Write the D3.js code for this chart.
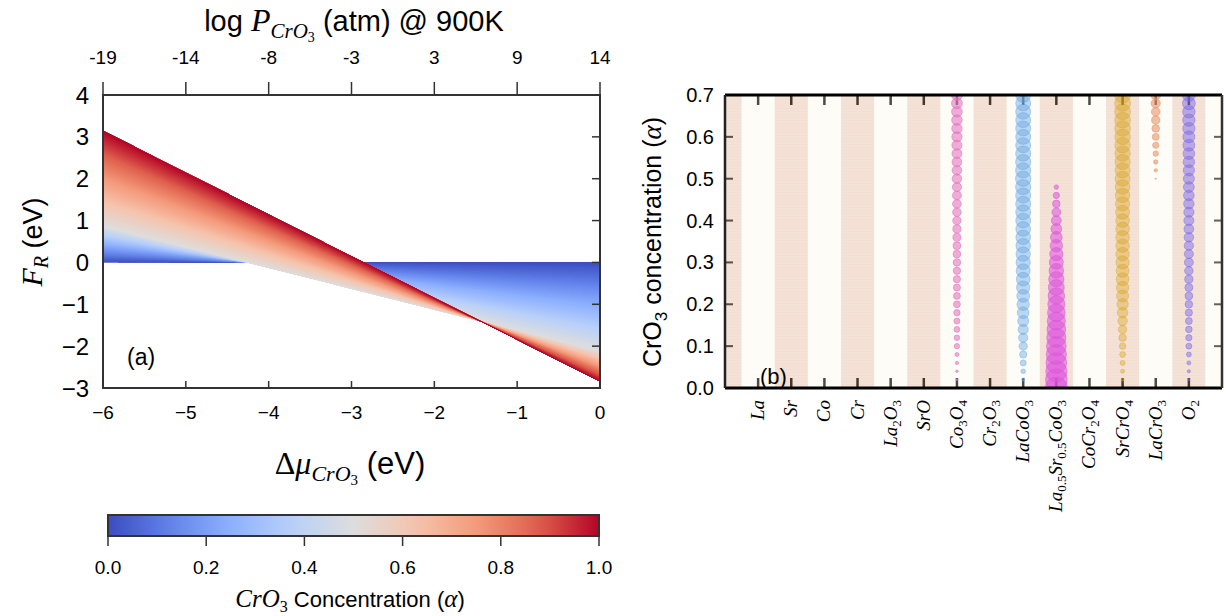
<!DOCTYPE html>
<html><head><meta charset="utf-8">
<script src="https://cdn.jsdelivr.net/npm/d3@7"></script>
<style>
body{margin:0;background:#fff}
text{font-family:"Liberation Sans",Arial,sans-serif;fill:#000}
.m{font-family:"Liberation Serif","Times New Roman",serif;font-style:italic}
.mu{font-family:"Liberation Serif","Times New Roman",serif;font-style:normal}
</style>
</head><body>
<svg id="c" width="1226" height="616"></svg>
<script>
// ---------- Panel (a) data ----------
const alphaLevels = [0,0.05,0.10,0.15,0.20,0.25,0.30,0.35,0.40,0.45,0.50,0.55,0.60,0.65,0.70,0.75,0.80,0.85,0.90,0.95,1.00];
// F_R (eV) of each alpha line at delta-mu = -6 eV and at delta-mu = 0 eV
const frAtMuLow  = [0,0.09,0.17,0.26,0.35,0.44,0.52,0.61,0.70,0.79,0.87,1.10,1.33,1.56,1.78,2.01,2.24,2.47,2.69,2.92,3.15];
const frAtMuHigh = [0,-0.21,-0.43,-0.64,-0.85,-1.06,-1.28,-1.49,-1.70,-1.91,-2.13,-2.20,-2.27,-2.34,-2.42,-2.49,-2.56,-2.63,-2.71,-2.78,-2.85];
const muRange = [-6,0];
const muTicks = [-6,-5,-4,-3,-2,-1,0];
const logPLabels = ["-19","-14","-8","-3","3","9","14"];
const frTicks = [-3,-2,-1,0,1,2,3,4];
const cbarTicks = [0,0.2,0.4,0.6,0.8,1.0];

// ---------- Panel (b) data ----------
const phases = ["La","Sr","Co","Cr","La2O3","SrO","Co3O4","Cr2O3","LaCoO3","La0.5Sr0.5CoO3","CoCr2O4","SrCrO4","LaCrO3","O2"];
const concGrid = [0,0.02,0.04,0.06,0.08,0.10,0.12,0.14,0.16,0.18,0.20,0.22,0.24,0.26,0.28,0.30,0.32,0.34,0.36,0.38,0.40,0.42,0.44,0.46,0.48,0.50,0.52,0.54,0.56,0.58,0.60,0.62,0.64,0.66,0.68,0.70];
const fracCo3O4  = [0,0.006,0.013,0.022,0.033,0.058,0.064,0.070,0.077,0.084,0.096,0.100,0.104,0.108,0.113,0.119,0.124,0.128,0.133,0.139,0.146,0.152,0.158,0.165,0.172,0.186,0.192,0.198,0.204,0.210,0.216,0.222,0.229,0.236,0.243,0.250];
const fracLaCoO3 = [0,0.019,0.042,0.074,0.107,0.142,0.179,0.215,0.250,0.283,0.313,0.338,0.365,0.388,0.405,0.420,0.428,0.436,0.443,0.450,0.456,0.462,0.468,0.475,0.482,0.490,0.480,0.475,0.470,0.468,0.466,0.465,0.464,0.463,0.462,0.460];
const fracLSCO   = [1.00,0.96,0.92,0.88,0.84,0.80,0.76,0.72,0.68,0.64,0.60,0.56,0.52,0.48,0.44,0.40,0.36,0.32,0.28,0.24,0.20,0.16,0.12,0.08,0.04,0,0,0,0,0,0,0,0,0,0,0];
const fracSrCrO4 = [0,0.019,0.033,0.052,0.070,0.087,0.116,0.149,0.186,0.228,0.268,0.300,0.318,0.338,0.350,0.365,0.372,0.378,0.383,0.387,0.390,0.405,0.420,0.435,0.450,0.465,0.472,0.480,0.488,0.495,0.500,0.506,0.512,0.518,0.524,0.530];
const fracLaCrO3 = [0,0,0,0,0,0,0,0,0,0,0,0,0,0,0,0,0,0,0,0,0,0,0,0,0,0.003,0.022,0.040,0.060,0.079,0.100,0.120,0.139,0.156,0.175,0.194];
const fracO2     = [0,0.010,0.020,0.032,0.050,0.074,0.082,0.090,0.098,0.108,0.119,0.125,0.132,0.140,0.152,0.167,0.172,0.180,0.188,0.198,0.207,0.216,0.225,0.234,0.243,0.252,0.262,0.272,0.282,0.292,0.300,0.308,0.316,0.325,0.337,0.349];
const bubbleSeries = [
  {phase:"Co3O4", frac:fracCo3O4, color:"#e377c2", op:0.75},
  {phase:"LaCoO3", frac:fracLaCoO3, color:"#66a6e6", op:0.55},
  {phase:"La0.5Sr0.5CoO3", frac:fracLSCO, color:"#dd55dd", op:0.7},
  {phase:"SrCrO4", frac:fracSrCrO4, color:"#daa520", op:0.5},
  {phase:"LaCrO3", frac:fracLaCrO3, color:"#e8956a", op:0.75},
  {phase:"O2", frac:fracO2, color:"#7b68ee", op:0.6}
];
const concTicks = [0,0.1,0.2,0.3,0.4,0.5,0.6,0.7];

// ---------- setup ----------
const svg = d3.select("#c");
const coolwarm = d3.scaleLinear()
  .domain([0,0.125,0.25,0.375,0.5,0.625,0.75,0.875,1])
  .range(["#3b4cc0","#6282ea","#8db0fe","#b8d0f9","#dddddd","#f5c4ad","#f49a7b","#de604d","#b40426"])
  .interpolate(d3.interpolateRgb);

function mathText(sel, parts){
  parts.forEach(p=>{
    const t = sel.append("tspan").text(p[0]);
    if(p[1]) t.attr("class",p[1]);
    if(p[3]) t.style("font-size",p[3]);
    if(p[2]) t.attr("dy",p[2]);
  });
}

// ================= Panel (a) =================
const A = {l:103,r:600,t:95,b:388};
const xA = d3.scaleLinear().domain(muRange).range([A.l,A.r]);
const yA = d3.scaleLinear().domain([-3,4]).range([A.b,A.t]);
const xTop = d3.scalePoint().domain(logPLabels).range([A.l,A.r]);

svg.append("clipPath").attr("id","clipA").append("rect")
  .attr("x",A.l).attr("y",A.t).attr("width",A.r-A.l).attr("height",A.b-A.t);
const gA = svg.append("g").attr("clip-path","url(#clipA)").attr("shape-rendering","crispEdges");
const nSub = 8;
const nLev = alphaLevels.length;
for(let i=0;i<nLev-1;i++){
  for(let k=0;k<nSub;k++){
    const t0=k/nSub;
    const last = (i===nLev-2 && k===nSub-1);
    const t1= last ? 1 : (k+1.6)/nSub;   // overlap into the next strip (covered later)
    const at = (v,t)=> (t<=1) ? v[i]+(v[i+1]-v[i])*t : v[i+1]+(v[i+2]-v[i+1])*(t-1);
    const a = alphaLevels[i]+(alphaLevels[i+1]-alphaLevels[i])*(k+0.5)/nSub;
    const pts = [[xA(muRange[0]),yA(at(frAtMuLow,t0))],[xA(muRange[1]),yA(at(frAtMuHigh,t0))],
                 [xA(muRange[1]),yA(at(frAtMuHigh,t1))],[xA(muRange[0]),yA(at(frAtMuLow,t1))]];
    gA.append("path").attr("d","M"+pts.join("L")+"Z").attr("fill",coolwarm(a))
      .attr("stroke",coolwarm(a)).attr("stroke-width",0.7);
  }
}
// frame
svg.append("rect").attr("x",A.l).attr("y",A.t).attr("width",A.r-A.l).attr("height",A.b-A.t)
  .attr("fill","none").attr("stroke","#333").attr("stroke-width",2);
// bottom ticks inward
svg.append("g").selectAll("line").data(muTicks).join("line")
  .attr("x1",d=>xA(d)).attr("x2",d=>xA(d)).attr("y1",A.b).attr("y2",A.b-7)
  .attr("stroke","#333").attr("stroke-width",1.5);
svg.append("g").selectAll("text").data(muTicks).join("text")
  .attr("x",d=>xA(d)).attr("y",419).attr("text-anchor","middle").style("font-size","19px")
  .text(d=>d<0?"\u2212"+(-d):d);
// top ticks outward
svg.append("g").selectAll("line").data(logPLabels).join("line")
  .attr("x1",d=>xTop(d)).attr("x2",d=>xTop(d)).attr("y1",A.t).attr("y2",A.t-13)
  .attr("stroke","#333").attr("stroke-width",1.5);
svg.append("g").selectAll("text").data(logPLabels).join("text")
  .attr("x",d=>xTop(d)).attr("y",64).attr("text-anchor","middle").style("font-size","19px").text(d=>d);
// right ticks inward
svg.append("g").selectAll("line").data(frTicks).join("line")
  .attr("x1",A.r).attr("x2",A.r-8).attr("y1",d=>yA(d)).attr("y2",d=>yA(d))
  .attr("stroke","#333").attr("stroke-width",1.5);
svg.append("g").selectAll("text").data(frTicks).join("text")
  .attr("x",89).attr("y",d=>yA(d)+8.5).attr("text-anchor","end").style("font-size","24px")
  .text(d=>d<0?"\u2212"+(-d):d);
// labels
{
  const t = svg.append("text").attr("x",354).attr("y",31).attr("text-anchor","middle").style("font-size","29px");
  mathText(t,[["log ",null],["P","m",0,"32px"],["CrO","m","7","21px"],["3","mu","4","14px"],[" (atm) @ 900K",null,"-11","29px"]]);
}
{
  const t = svg.append("text").attr("x",350).attr("y",474).attr("text-anchor","middle").style("font-size","30px");
  mathText(t,[["\u0394","mu",0,"32px"],["\u03bc","m",0,"32px"],["CrO","m","7","22px"],["3","mu","4","15px"],[" (eV)",null,"-11","31px"]]);
}
{
  const t = svg.append("text").attr("transform","translate(42,242) rotate(-90)").attr("text-anchor","middle").style("font-size","27px");
  mathText(t,[["F","m",0,"30px"],["R","m","6","20px"],[" (eV)",null,"-6","27px"]]);
}
svg.append("text").attr("x",127).attr("y",365).style("font-size","23px").text("(a)");

// colorbar
const C = {l:108,r:599,t:515,b:536};
const xC = d3.scaleLinear().domain([0,1]).range([C.l,C.r]);
const grad = svg.append("defs").append("linearGradient").attr("id","cw");
d3.range(0,1.0001,0.05).forEach(s=>grad.append("stop").attr("offset",s).attr("stop-color",coolwarm(s)));
svg.append("rect").attr("x",C.l).attr("y",C.t).attr("width",C.r-C.l).attr("height",C.b-C.t)
  .attr("fill","url(#cw)").attr("stroke","#333").attr("stroke-width",2);
svg.append("g").selectAll("line").data(cbarTicks).join("line")
  .attr("x1",d=>xC(d)).attr("x2",d=>xC(d)).attr("y1",C.b).attr("y2",C.b+10)
  .attr("stroke","#333").attr("stroke-width",1.5);
svg.append("g").selectAll("text").data(cbarTicks).join("text")
  .attr("x",d=>xC(d)).attr("y",574).attr("text-anchor","middle").style("font-size","19px").text(d=>d.toFixed(1));
{
  const t = svg.append("text").attr("x",350).attr("y",607).attr("text-anchor","middle").style("font-size","22px");
  mathText(t,[["CrO","m",0,"25px"],["3","mu","5","16px"],[" Concentration (",null,"-5","22px"],["\u03b1","m",0,"25px"],[")",null,0,"22px"]]);
}

// ================= Panel (b) =================
const B = {l:725,r:1222,t:95,b:388};
const xB = d3.scaleLinear().domain([-1,14]).range([B.l,B.r]);
const yB = d3.scaleLinear().domain([0,0.7]).range([B.b,B.t]);
const rB = d3.scaleSqrt().domain([0,1]).range([0,11]);
svg.append("clipPath").attr("id","clipB").append("rect")
  .attr("x",B.l).attr("y",B.t).attr("width",B.r-B.l).attr("height",B.b-B.t);
const gB = svg.append("g").attr("clip-path","url(#clipB)");
const catIdx = d3.range(phases.length);
// ticks (drawn under bands)
gB.append("g").selectAll("line").data(catIdx).join("line")
  .attr("x1",d=>xB(d)).attr("x2",d=>xB(d)).attr("y1",B.t).attr("y2",B.t+10).attr("stroke","#000").attr("stroke-width",2.5);
gB.append("g").selectAll("line").data(catIdx).join("line")
  .attr("x1",d=>xB(d)).attr("x2",d=>xB(d)).attr("y1",B.b).attr("y2",B.b-10).attr("stroke","#000").attr("stroke-width",2.5);
gB.append("g").selectAll("line").data(concTicks).join("line")
  .attr("x1",B.l).attr("x2",B.l+8).attr("y1",d=>yB(d)).attr("y2",d=>yB(d)).attr("stroke","#222").attr("stroke-width",2);
gB.append("g").selectAll("line").data(concTicks).join("line")
  .attr("x1",B.r).attr("x2",B.r-8).attr("y1",d=>yB(d)).attr("y2",d=>yB(d)).attr("stroke","#222").attr("stroke-width",2);
// bands with faint horizontal striation
const defs = svg.append("defs");
const pat = defs.append("pattern").attr("id","stripe").attr("patternUnits","userSpaceOnUse")
  .attr("width",8).attr("height",3);
pat.append("rect").attr("width",8).attr("height",3).attr("fill","#dea783");
pat.append("rect").attr("width",8).attr("height",1).attr("fill","#d89a76");
const bandIdx = d3.range(-1,15);
gB.append("g").selectAll("rect").data(bandIdx).join("rect")
  .attr("x",d=>xB(d-0.5)).attr("width",xB(1)-xB(0)).attr("y",B.t).attr("height",B.b-B.t)
  .attr("fill",d=>Math.abs(d)%2===1?"url(#stripe)":"#fdf5e6")
  .attr("opacity",d=>Math.abs(d)%2===1?0.33:0.3);
// bubbles
bubbleSeries.forEach(s=>{
  const xi = phases.indexOf(s.phase);
  const pts = concGrid.map((c,i)=>({c, f:s.frac[i]})).filter(p=>p.f>0);
  gB.append("g").selectAll("circle").data(pts).join("circle")
    .attr("cx",xB(xi)).attr("cy",p=>yB(p.c)).attr("r",p=>rB(p.f))
    .attr("fill",s.color).attr("fill-opacity",s.op*0.8)
    .attr("stroke",s.color).attr("stroke-opacity",s.op).attr("stroke-width",0.8);
});
// frame
svg.append("line").attr("x1",B.l).attr("x2",B.r).attr("y1",B.t).attr("y2",B.t).attr("stroke","#000").attr("stroke-width",3);
svg.append("line").attr("x1",B.l).attr("x2",B.r).attr("y1",B.b).attr("y2",B.b).attr("stroke","#000").attr("stroke-width",3);
svg.append("line").attr("x1",B.l).attr("x2",B.l).attr("y1",B.t).attr("y2",B.b).attr("stroke","#222").attr("stroke-width",2.5);
svg.append("line").attr("x1",B.r).attr("x2",B.r).attr("y1",B.t).attr("y2",B.b).attr("stroke","#333").attr("stroke-width",2.5);
// y tick labels
svg.append("g").selectAll("text").data(concTicks).join("text")
  .attr("x",714).attr("y",d=>yB(d)+7).attr("text-anchor","end").style("font-size","20px").text(d=>d.toFixed(1));
// x labels (rotated, math italic with subscripts)
phases.forEach((p,i)=>{
  const t = svg.append("text").attr("transform",`translate(${xB(i)+6},400) rotate(-90)`)
    .attr("text-anchor","end").style("font-size","19px");
  const toks = p.match(/[A-Za-z]+|[0-9.]+/g);
  let sub=false;
  toks.forEach(tk=>{
    const isNum=/^[0-9.]/.test(tk);
    const ts=t.append("tspan").text(tk).attr("class",isNum?"mu":"m");
    if(isNum){ ts.style("font-size","13px"); if(!sub){ts.attr("dy",4);sub=true;} }
    else { ts.style("font-size","19px"); if(sub){ts.attr("dy",-4);sub=false;} }
  });
});
{
  const t = svg.append("text").attr("transform","translate(661,242) rotate(-90)").attr("text-anchor","middle").style("font-size","25px");
  mathText(t,[["CrO",null],["3",null,"6","17px"],[" concentration (",null,"-6","25px"],["\u03b1","m",0,"27px"],[")",null,0,"25px"]]);
}
svg.append("text").attr("x",760).attr("y",384).style("font-size","22px").text("(b)");
</script>
</body></html>
